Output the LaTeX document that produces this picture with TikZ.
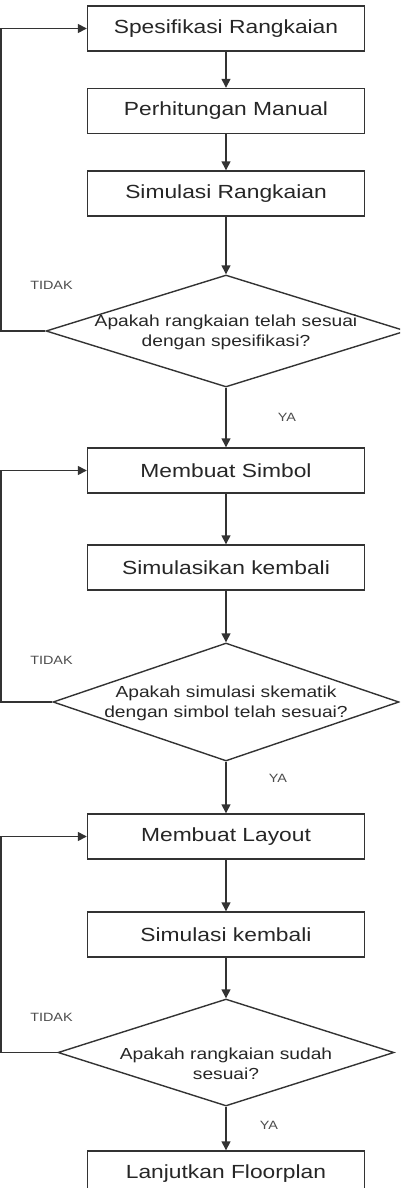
\documentclass[tikz,border=0pt]{standalone}
\usepackage{fontspec}
\setmainfont{Liberation Sans}[FakeStretch=1.2]
\usetikzlibrary{positioning, shapes.geometric, arrows.meta}

\begin{document}
\begin{tikzpicture}[x=1pt, y=-1pt]
        % one unit is one pixel of the 400 x 1188 page, y runs downwards
        \tikzstyle{proses}=[rectangle, draw=black!80, line width=1.4pt, minimum width=277pt, minimum height=45pt, inner sep=0pt, text=black!85, font=\fontsize{19}{22}\selectfont]
        \tikzstyle{keputusan}=[diamond, draw=black!80, line width=1.4pt, inner sep=0pt]
        \tikzstyle{tanya}=[align=center, text=black!85, font=\fontsize{16}{20}\selectfont]
        \tikzstyle{jawab}=[text=black!70, font=\fontsize{12}{14}\selectfont]
        \tikzstyle{panah}=[draw=black!80, line width=1.4pt, -{Triangle[length=9pt, width=9pt]}]

        \useasboundingbox (0,0) rectangle (400,1188);
        \clip (0,0) rectangle (400,1188);

        \coordinate (kiri) at (1,0);

        \node[proses] (spek) at (226, 28.5) {Spesifikasi Rangkaian};
        \node[proses] (hitung) at (226, 111) {Perhitungan Manual};
        \node[proses] (simrang) at (226, 193.5) {Simulasi Rangkaian};
        \node[keputusan, minimum width=360pt, minimum height=112pt] (cek1) at (226, 331) {};
        \node[tanya] (tanya1) at (226, 332) {Apakah rangkaian telah sesuai\\dengan spesifikasi?};

        \node[proses] (simbol) at (226, 470.5) {Membuat Simbol};
        \node[proses] (simkem) at (226, 567.5) {Simulasikan kembali};
        \node[keputusan, minimum width=346pt, minimum height=118pt] (cek2) at (226, 702) {};
        \node[tanya] (tanya2) at (226, 703) {Apakah simulasi skematik\\dengan simbol telah sesuai?};

        \node[proses] (layout) at (226, 836.5) {Membuat Layout};
        \node[proses] (simlay) at (226, 934.5) {Simulasi kembali};
        \node[keputusan, minimum width=336pt, minimum height=107pt] (cek3) at (226, 1052.5) {};
        \node[tanya] (tanya3) at (226, 1064) {Apakah rangkaian sudah\\sesuai?};

        \node[proses] (floor) at (226, 1173.5) {Lanjutkan Floorplan};

        \draw[panah] (spek) -- (hitung);
        \draw[panah] (hitung) -- (simrang);
        \draw[panah] (simrang) -- (cek1.north);
        \draw[panah] (cek1.south) -- (simbol);
        \draw[panah] (simbol) -- (simkem);
        \draw[panah] (simkem) -- (cek2.north);
        \draw[panah] (cek2.south) -- (layout);
        \draw[panah] (layout) -- (simlay);
        \draw[panah] (simlay) -- (cek3.north);
        \draw[panah] (cek3.south) -- (floor);

        % jalur kembali (TIDAK)
        \draw[panah] (cek1.west) -- (cek1.west -| kiri) |- (spek.west);
        \draw[panah] (cek2.west) -- (cek2.west -| kiri) |- (simbol.west);
        \draw[panah] (cek3.west) -- (cek3.west -| kiri) |- (layout.west);

        \node[jawab] (tidak1) at (51.5, 285) {TIDAK};
        \node[jawab] (tidak2) at (51.5, 660) {TIDAK};
        \node[jawab] (tidak3) at (51.5, 1017) {TIDAK};
        \node[jawab] (ya1) at (287, 417) {YA};
        \node[jawab] (ya2) at (278, 778) {YA};
        \node[jawab] (ya3) at (269, 1125) {YA};
      \end{tikzpicture}
\end{document}
